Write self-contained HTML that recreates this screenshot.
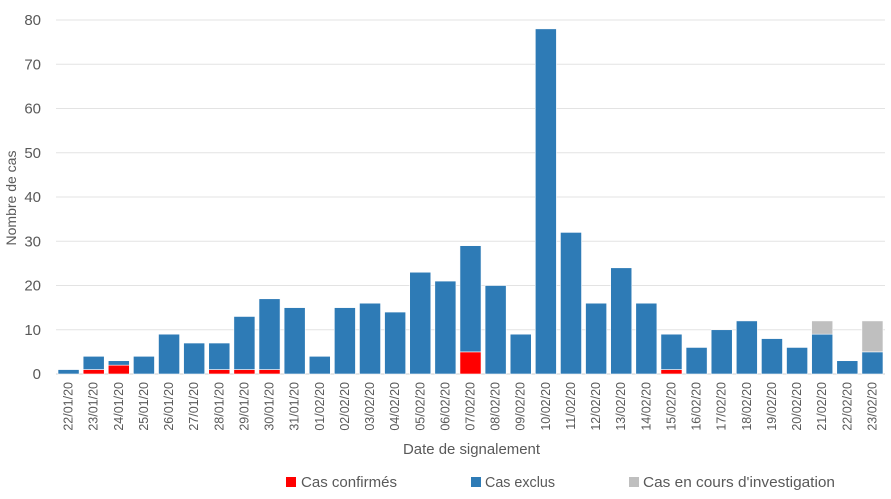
<!DOCTYPE html>
<html><head><meta charset="utf-8"><style>
body{margin:0;background:#fff;font-family:"Liberation Sans",sans-serif;}
svg text{font-family:"Liberation Sans",sans-serif;fill:#595959;}
</style></head><body>
<svg id="chart" width="891" height="494" xmlns="http://www.w3.org/2000/svg">
<g id="grid"></g><g id="bars"></g><g id="xl"></g><g id="yl"></g>
<text transform="translate(16,198) rotate(-90)" text-anchor="middle" font-size="14">Nombre de cas</text>
<text x="403" y="454" font-size="15" textLength="137" lengthAdjust="spacingAndGlyphs">Date de signalement</text>
<g>
<rect x="286" y="477" width="10" height="10" fill="#ff0000"/>
<text x="301" y="487" font-size="15" textLength="96" lengthAdjust="spacingAndGlyphs">Cas confirmés</text>
<rect x="471" y="477" width="10" height="10" fill="#2e7bb6"/>
<text x="485" y="487" font-size="15" textLength="70" lengthAdjust="spacingAndGlyphs">Cas exclus</text>
<rect x="629" y="477" width="10" height="10" fill="#bfbfbf"/>
<text x="643" y="487" font-size="15" textLength="192" lengthAdjust="spacingAndGlyphs">Cas en cours d'investigation</text>
</g>
</svg>
<script>
const categories=["22/01/20","23/01/20","24/01/20","25/01/20","26/01/20","27/01/20","28/01/20","29/01/20","30/01/20","31/01/20","01/02/20","02/02/20","03/02/20","04/02/20","05/02/20","06/02/20","07/02/20","08/02/20","09/02/20","10/02/20","11/02/20","12/02/20","13/02/20","14/02/20","15/02/20","16/02/20","17/02/20","18/02/20","19/02/20","20/02/20","21/02/20","22/02/20","23/02/20"];
const confirmed=[0,1,2,0,0,0,1,1,1,0,0,0,0,0,0,0,5,0,0,0,0,0,0,0,1,0,0,0,0,0,0,0,0];
const excluded=[1,3,1,4,9,7,6,12,16,15,4,15,16,14,23,21,24,20,9,78,32,16,24,16,8,6,10,12,8,6,9,3,5];
const investigating=[0,0,0,0,0,0,0,0,0,0,0,0,0,0,0,0,0,0,0,0,0,0,0,0,0,0,0,0,0,0,3,0,7];
const yTicks=[0,10,20,30,40,50,60,70,80];
const NS="http://www.w3.org/2000/svg";
const L=56,R=885,Y0=374,Y80=20;
const y=v=>Y0-(v/80)*(Y0-Y80);
const bw=(R-L)/categories.length;
const x=i=>L+i*bw;
function mk(t,a,p){const e=document.createElementNS(NS,t);for(const k in a)e.setAttribute(k,a[k]);p.appendChild(e);return e;}
const grid=document.getElementById('grid'),yl=document.getElementById('yl'),xl=document.getElementById('xl'),bars=document.getElementById('bars');
yTicks.forEach(t=>{
  const g=mk('line',{x1:L,x2:R,y1:y(t),y2:y(t),stroke:t===0?'#d0d0d0':'#e3e3e3','stroke-width':1},grid);
  
  
  const tx=mk('text',{x:41,y:y(t)+5,'text-anchor':'end','font-size':'15'},yl);
  tx.textContent=t;
  
  
});
categories.forEach((c,i)=>{
  const w=bw*0.84,bx=x(i)+(bw-w)/2;
  let base=0;
  [[confirmed[i],'#ff0000','bar-confirmed'],[excluded[i],'#2e7bb6','bar-excluded'],[investigating[i],'#bfbfbf','bar-investigation']].forEach(([v,col,nm])=>{
    if(v>0){
      const r=mk('rect',{x:bx,y:y(base+v),width:w,height:y(base)-y(base+v),fill:col,stroke:'#ffffff','stroke-width':0.6},bars);
      
      
    }
    base+=v;
  });
  const cx=x(i)+bw/2+4;
  const t=mk('text',{transform:`translate(${cx},382) rotate(-90)`,'text-anchor':'end','font-size':'12.5'},xl);
  t.textContent=c;
  
  
});
</script>
</body></html>
